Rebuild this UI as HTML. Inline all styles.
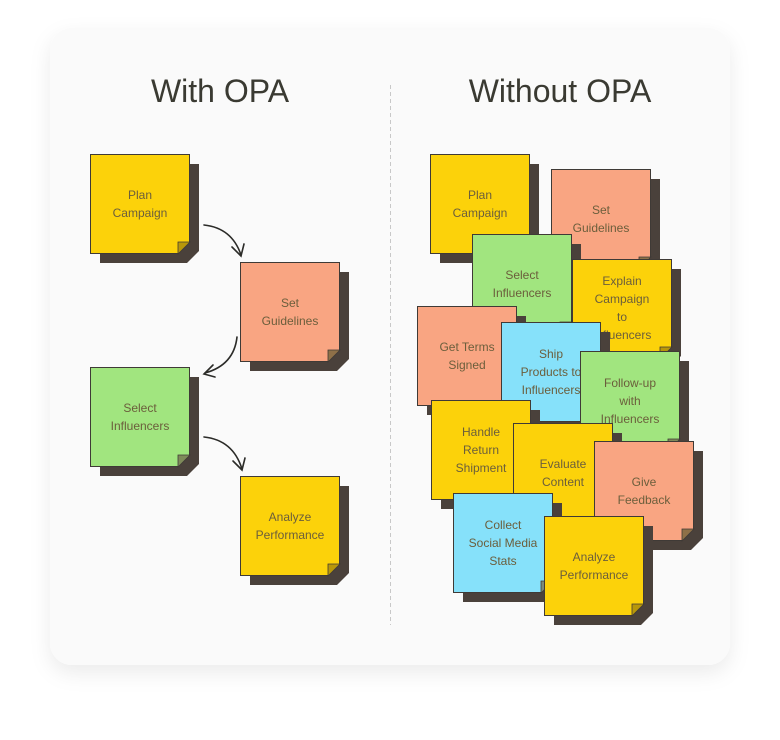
<!DOCTYPE html>
<html><head><meta charset="utf-8"><style>
html,body{margin:0;padding:0;background:#fff;width:780px;height:740px;overflow:hidden}
svg{display:block}
text{font-family:"Liberation Sans",sans-serif}
.t{font-size:12px;fill:#6b5e3c;text-anchor:middle}
.h{font-size:32px;fill:#3a3a32;text-anchor:middle}
</style></head><body>
<svg width="780" height="740" viewBox="0 0 780 740" xmlns="http://www.w3.org/2000/svg">
<defs>
<filter id="sh" x="-10%" y="-10%" width="120%" height="125%"><feDropShadow dx="0" dy="8" stdDeviation="10" flood-color="#000" flood-opacity="0.08"/></filter>
<g id="base">
<polygon points="10,10 109,10 109,97 97,109 10,109" fill="#4a413b"/>
</g>
</defs>
<rect x="50" y="28" width="680" height="637" rx="22" fill="#fafafa" filter="url(#sh)"/>
<line x1="390.5" y1="85" x2="390.5" y2="625" stroke="#c8c8c8" stroke-dasharray="4,3"/>
<text class="h" x="220" y="102">With OPA</text>
<text class="h" x="560" y="102">Without OPA</text>

<!-- note template: translate -->
<g transform="translate(90,154)"><use href="#base"/><rect x="0.5" y="0.5" width="99" height="99" fill="#fcd20a" stroke="#3f3a36"/><polygon points="88,100 100,88 100,100" fill="#4a413b"/><polygon points="88,88 100,88 88,100" fill="#b8970a" stroke="#3f3a36" stroke-width="0.8"/><text class="t" x="50" y="45">Plan</text><text class="t" x="50" y="63">Campaign</text></g>
<g transform="translate(240,262)"><use href="#base"/><rect x="0.5" y="0.5" width="99" height="99" fill="#f9a582" stroke="#3f3a36"/><polygon points="88,100 100,88 100,100" fill="#4a413b"/><polygon points="88,88 100,88 88,100" fill="#8e7048" stroke="#3f3a36" stroke-width="0.8"/><text class="t" x="50" y="45">Set</text><text class="t" x="50" y="63">Guidelines</text></g>
<g transform="translate(90,367)"><use href="#base"/><rect x="0.5" y="0.5" width="99" height="99" fill="#a1e57f" stroke="#3f3a36"/><polygon points="88,100 100,88 100,100" fill="#4a413b"/><polygon points="88,88 100,88 88,100" fill="#7e8a5a" stroke="#3f3a36" stroke-width="0.8"/><text class="t" x="50" y="45">Select</text><text class="t" x="50" y="63">Influencers</text></g>
<g transform="translate(240,476)"><use href="#base"/><rect x="0.5" y="0.5" width="99" height="99" fill="#fcd20a" stroke="#3f3a36"/><polygon points="88,100 100,88 100,100" fill="#4a413b"/><polygon points="88,88 100,88 88,100" fill="#b8970a" stroke="#3f3a36" stroke-width="0.8"/><text class="t" x="50" y="45">Analyze</text><text class="t" x="50" y="63">Performance</text></g>

<g fill="none" stroke="#2b2b28" stroke-width="1.6" stroke-linecap="round">
<path d="M204,225 Q232,228 241,255"/><path d="M232,247 L241,256 L244,244"/>
<path d="M237,337 Q234,365 205,373"/><path d="M213,365 L204,374 L215,377"/>
<path d="M204,437 Q233,440 242,469"/><path d="M233,461 L242,470 L245,458"/>
</g>

<!-- right stack -->
<g transform="translate(430,154)"><use href="#base"/><rect x="0.5" y="0.5" width="99" height="99" fill="#fcd20a" stroke="#3f3a36"/><polygon points="88,100 100,88 100,100" fill="#4a413b"/><polygon points="88,88 100,88 88,100" fill="#b8970a" stroke="#3f3a36" stroke-width="0.8"/><text class="t" x="50" y="45">Plan</text><text class="t" x="50" y="63">Campaign</text></g>
<g transform="translate(551,169)"><use href="#base"/><rect x="0.5" y="0.5" width="99" height="99" fill="#f9a582" stroke="#3f3a36"/><polygon points="88,100 100,88 100,100" fill="#4a413b"/><polygon points="88,88 100,88 88,100" fill="#8e7048" stroke="#3f3a36" stroke-width="0.8"/><text class="t" x="50" y="45">Set</text><text class="t" x="50" y="63">Guidelines</text></g>
<g transform="translate(472,234)"><use href="#base"/><rect x="0.5" y="0.5" width="99" height="99" fill="#a1e57f" stroke="#3f3a36"/><polygon points="88,100 100,88 100,100" fill="#4a413b"/><polygon points="88,88 100,88 88,100" fill="#7e8a5a" stroke="#3f3a36" stroke-width="0.8"/><text class="t" x="50" y="45">Select</text><text class="t" x="50" y="63">Influencers</text></g>
<g transform="translate(572,259)"><use href="#base"/><rect x="0.5" y="0.5" width="99" height="99" fill="#fcd20a" stroke="#3f3a36"/><polygon points="88,100 100,88 100,100" fill="#4a413b"/><polygon points="88,88 100,88 88,100" fill="#b8970a" stroke="#3f3a36" stroke-width="0.8"/><text class="t" x="50" y="26">Explain</text><text class="t" x="50" y="44">Campaign</text><text class="t" x="50" y="62">to</text><text class="t" x="50" y="80">Influencers</text></g>
<g transform="translate(417,306)"><use href="#base"/><rect x="0.5" y="0.5" width="99" height="99" fill="#f9a582" stroke="#3f3a36"/><polygon points="88,100 100,88 100,100" fill="#4a413b"/><polygon points="88,88 100,88 88,100" fill="#8e7048" stroke="#3f3a36" stroke-width="0.8"/><text class="t" x="50" y="45">Get Terms</text><text class="t" x="50" y="63">Signed</text></g>
<g transform="translate(501,322)"><use href="#base"/><rect x="0.5" y="0.5" width="99" height="99" fill="#86e1fa" stroke="#3f3a36"/><polygon points="88,100 100,88 100,100" fill="#4a413b"/><polygon points="88,88 100,88 88,100" fill="#7b8a7a" stroke="#3f3a36" stroke-width="0.8"/><text class="t" x="50" y="36">Ship</text><text class="t" x="50" y="54">Products to</text><text class="t" x="50" y="72">Influencers</text></g>
<g transform="translate(580,351)"><use href="#base"/><rect x="0.5" y="0.5" width="99" height="99" fill="#a1e57f" stroke="#3f3a36"/><polygon points="88,100 100,88 100,100" fill="#4a413b"/><polygon points="88,88 100,88 88,100" fill="#7e8a5a" stroke="#3f3a36" stroke-width="0.8"/><text class="t" x="50" y="36">Follow-up</text><text class="t" x="50" y="54">with</text><text class="t" x="50" y="72">Influencers</text></g>
<g transform="translate(431,400)"><use href="#base"/><rect x="0.5" y="0.5" width="99" height="99" fill="#fcd20a" stroke="#3f3a36"/><polygon points="88,100 100,88 100,100" fill="#4a413b"/><polygon points="88,88 100,88 88,100" fill="#b8970a" stroke="#3f3a36" stroke-width="0.8"/><text class="t" x="50" y="36">Handle</text><text class="t" x="50" y="54">Return</text><text class="t" x="50" y="72">Shipment</text></g>
<g transform="translate(513,423)"><use href="#base"/><rect x="0.5" y="0.5" width="99" height="99" fill="#fcd20a" stroke="#3f3a36"/><polygon points="88,100 100,88 100,100" fill="#4a413b"/><polygon points="88,88 100,88 88,100" fill="#b8970a" stroke="#3f3a36" stroke-width="0.8"/><text class="t" x="50" y="45">Evaluate</text><text class="t" x="50" y="63">Content</text></g>
<g transform="translate(594,441)"><use href="#base"/><rect x="0.5" y="0.5" width="99" height="99" fill="#f9a582" stroke="#3f3a36"/><polygon points="88,100 100,88 100,100" fill="#4a413b"/><polygon points="88,88 100,88 88,100" fill="#8e7048" stroke="#3f3a36" stroke-width="0.8"/><text class="t" x="50" y="45">Give</text><text class="t" x="50" y="63">Feedback</text></g>
<g transform="translate(453,493)"><use href="#base"/><rect x="0.5" y="0.5" width="99" height="99" fill="#86e1fa" stroke="#3f3a36"/><polygon points="88,100 100,88 100,100" fill="#4a413b"/><polygon points="88,88 100,88 88,100" fill="#7b8a7a" stroke="#3f3a36" stroke-width="0.8"/><text class="t" x="50" y="36">Collect</text><text class="t" x="50" y="54">Social Media</text><text class="t" x="50" y="72">Stats</text></g>
<g transform="translate(544,516)"><use href="#base"/><rect x="0.5" y="0.5" width="99" height="99" fill="#fcd20a" stroke="#3f3a36"/><polygon points="88,100 100,88 100,100" fill="#4a413b"/><polygon points="88,88 100,88 88,100" fill="#b8970a" stroke="#3f3a36" stroke-width="0.8"/><text class="t" x="50" y="45">Analyze</text><text class="t" x="50" y="63">Performance</text></g>
</svg>
</body></html>
